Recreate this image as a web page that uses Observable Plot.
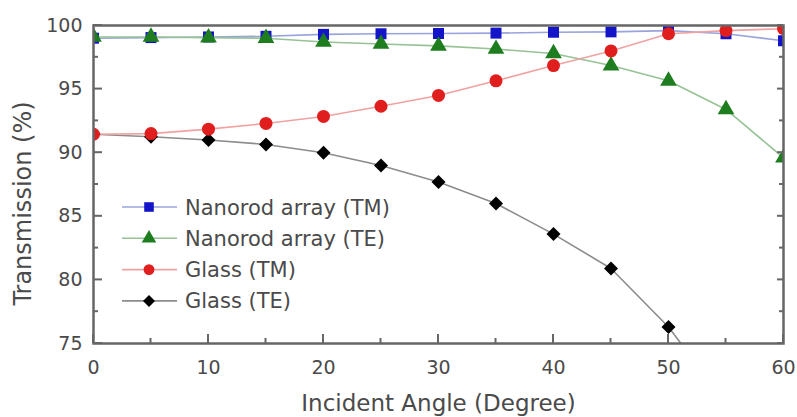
<!DOCTYPE html>
<html>
<head>
<meta charset="utf-8">
<script src="https://cdn.jsdelivr.net/npm/d3@7"></script>
<script src="https://cdn.jsdelivr.net/npm/@observablehq/plot@0.6"></script>
<style>
  body { margin: 0; background: #fff; }
  #wrap { position: relative; width: 797px; height: 417px; }
</style>
</head>
<body>
<div id="wrap"></div>
<script>
// ---- data ----
const angles     = [0, 5, 10, 15, 20, 25, 30, 35, 40, 45, 50, 55, 60];
const nanorodTM  = [99.0, 99.05, 99.1, 99.15, 99.3, 99.35, 99.37, 99.4, 99.47, 99.5, 99.6, 99.35, 98.8];
const nanorodTE  = [99.1, 99.1, 99.05, 99.0, 98.7, 98.55, 98.4, 98.15, 97.8, 96.85, 95.65, 93.4, 89.6];
const glassTM    = [91.45, 91.5, 91.85, 92.3, 92.85, 93.65, 94.5, 95.65, 96.85, 98.0, 99.35, 99.6, 99.75];
const glassTE    = [91.45, 91.25, 91.0, 90.65, 90.0, 89.0, 87.7, 86.0, 83.6, 80.9, 76.3, 70.3];
const seriesNames = ["Nanorod array (TM)", "Nanorod array (TE)", "Glass (TM)", "Glass (TE)"];
const xTicks = [0, 10, 20, 30, 40, 50, 60];
const xMinor = [5, 15, 25, 35, 45, 55];
const yTicks = [75, 80, 85, 90, 95, 100];
const yMinor = [77.5, 82.5, 87.5, 92.5, 97.5];
const xTitle = "Incident Angle (Degree)";
const yTitle = "Transmission (%)";

// ---- styles ----
const seriesValues = [nanorodTM, nanorodTE, glassTM, glassTE];
const markerColors = ["#1414c8", "#1e7d1e", "#e01e1e", "#000000"];
const lineColors   = ["#9aa4dc", "#96c296", "#f0a2a2", "#8c8c8c"];
const symbols      = ["square", "triangle", "circle", "diamond2"];
const d3Symbols    = [d3.symbolSquare, d3.symbolTriangle, d3.symbolCircle, d3.symbolDiamond2];
const radii        = [6.2, 6.2, 6.5, 6.3];
const drawOrder    = [0, 3, 1, 2];
const axisGray = "#666666";
const textGray = "#4a4a4a";
const font = "DejaVu Sans";

const W = 797, H = 417;
const mL = 93, mR = 14, mT = 25, mB = 74;

const rows = seriesValues.map((vals, s) =>
  vals.map((v, i) => ({angle: angles[i], value: v, series: seriesNames[s]}))
);

const dataMarks = [];
for (const s of drawOrder) {
  dataMarks.push(Plot.line(rows[s], {x: "angle", y: "value", stroke: lineColors[s], strokeWidth: 1.6, clip: true}));
}
for (const s of drawOrder) {
  dataMarks.push(Plot.dot(rows[s], {x: "angle", y: "value", symbol: () => symbols[s], fill: markerColors[s], stroke: "none", r: radii[s], clip: true}));
}

const chart = Plot.plot({
  width: W,
  height: H,
  marginLeft: mL,
  marginRight: mR,
  marginTop: mT,
  marginBottom: mB,
  style: {fontFamily: font, fontSize: "19px", color: textGray, background: "#fff"},
  x: {domain: [0, 60]},
  y: {domain: [75, 100]},
  symbol: {type: "identity"},
  marks: [
    ...dataMarks,
    // tick labels
    Plot.axisX(xTicks, {anchor: "bottom", tickSize: 0, tickPadding: 17, fill: textGray, fontSize: 19, label: null}),
    Plot.axisY(yTicks, {anchor: "left", tickSize: 0, tickPadding: 11, fill: textGray, fontSize: 19, label: null}),
    // titles
    Plot.text([xTitle], {text: d => d, frameAnchor: "bottom", dy: 60, lineAnchor: "middle", textAnchor: "middle", fontSize: 23, fill: textGray}),
    Plot.text([yTitle], {text: d => d, frameAnchor: "left", dx: -70, dy: 19, rotate: -90, lineAnchor: "middle", textAnchor: "middle", fontSize: 24, fill: textGray}),
    Plot.frame({stroke: axisGray, strokeWidth: 2.5})
  ]
});

const wrap = document.getElementById("wrap");
wrap.appendChild(chart);

// ---- inward ticks, positioned with the chart's own scales ----
const xs = chart.scale("x"), ys = chart.scale("y");
const left = xs.apply(0), right = xs.apply(60), bottom = ys.apply(75);
const tg = d3.select(chart).append("g").attr("aria-label", "inward ticks")
  .attr("stroke", axisGray).attr("stroke-width", 2).attr("fill", "none");
const addX = (vals, len) => vals.forEach(v => {
  const px = xs.apply(v);
  tg.append("line").attr("x1", px).attr("x2", px).attr("y1", bottom).attr("y2", bottom - len);
});
const addY = (vals, x0, len) => vals.forEach(v => {
  const py = ys.apply(v);
  tg.append("line").attr("x1", x0).attr("x2", x0 + len).attr("y1", py).attr("y2", py);
});
addX(xTicks, 9);
addX(xMinor, 5);
addY(yTicks, left, 9);
addY(yMinor, left, 5);
addY(yTicks, right, -6);
addY(yMinor, right, -4);

// ---- legend (drawn inside the chart's own SVG) ----
const leg = d3.select(chart).append("g").attr("aria-label", "legend");
seriesNames.forEach((name, i) => {
  const cy = 207 + i * 31.3;
  const g = leg.append("g");
  g.append("line").attr("x1", 122).attr("x2", 177).attr("y1", cy).attr("y2", cy)
    .attr("stroke", lineColors[i]).attr("stroke-width", 1.6);
  g.append("path").attr("d", d3.symbol(d3Symbols[i], Math.PI * 5.4 * 5.4)())
    .attr("transform", `translate(149,${cy})`).attr("fill", markerColors[i]).attr("stroke", "none");
  g.append("text").attr("x", 185).attr("y", cy).attr("dy", "0.36em")
    .attr("text-anchor", "start")
    .attr("font-family", font).attr("font-size", 21).attr("fill", textGray).text(name);
});
</script>
</body>
</html>
